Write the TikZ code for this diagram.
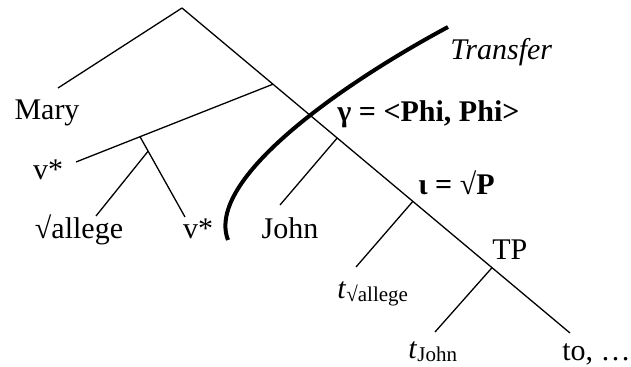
\documentclass[tikz,border=0pt]{standalone}
\usepackage{fontspec}
\setmainfont{Liberation Serif}
\usetikzlibrary{positioning,calc}
\newcommand{\trace}[1]{\textit{t}{\fontsize{10.5}{12}\selectfont\raisebox{-1.5pt}{#1}}}

\begin{document}
\begin{tikzpicture}[
  x=0.5pt,y=-0.5pt,
  font=\fontsize{15}{18}\selectfont,
  branch/.style={line width=0.65pt},
  leaf/.style={anchor=base,inner sep=0pt},
  tag/.style={anchor=base west,inner sep=0pt},
  transfer/.style={line width=2pt}
]
  \useasboundingbox (0,0) rectangle (631,367);
  % spine and its junctions
  \coordinate (root) at (182,8);
  \coordinate (spineend) at (570,333);
  \coordinate (vPhead) at ($(root)!0.2345!(spineend)$);
  \coordinate (gammaP) at ($(root)!0.40!(spineend)$);
  \coordinate (iotaP) at ($(root)!0.595!(spineend)$);
  \coordinate (tpP) at ($(root)!0.799!(spineend)$);
  % free ends
  \coordinate (maryend) at (58,88);
  \coordinate (vend) at (76,162);
  \coordinate (vtwoend) at (185,217);
  \coordinate (allegeend) at (96,216);
  \coordinate (johnend) at (280,205);
  \coordinate (tallegeend) at (356,267);
  \coordinate (tjohnend) at (435,332);
  \coordinate (vP) at ($(vPhead)!0.675!(vend)$);
  \coordinate (rootP) at ($(vP)!0.18!(vtwoend)$);

  \node[leaf] (mary) at (47,120) {Mary};
  \node[leaf] (vstar) at (48,180) {v*};
  \node[leaf] (allege) at (79,239) {√allege};
  \node[leaf] (vstartwo) at (198,239) {v*};
  \node[leaf] (john) at (290,239) {John};
  \node[tag] (gamma) at (337,122) {\textbf{γ = <Phi, Phi>}};
  \node[tag] (iota) at (418,195) {\textbf{ι = √P}};
  \node[tag] (transferlbl) at (450,60) {\textit{Transfer}};
  \node[tag] (tp) at (492,260) {TP};
  \node[tag] (tallege) at (337,299) {\trace{√allege}};
  \node[tag] (tjohn) at (408,359) {\trace{John}};
  \node[tag] (to) at (562,361) {to, …};

  \draw[branch] (root) -- (maryend);
  \draw[branch] (root) -- (spineend);
  \draw[branch] (vPhead) -- (vend);
  \draw[branch] (vP) -- (vtwoend);
  \draw[branch] (rootP) -- (allegeend);
  \draw[branch] (gammaP) -- (johnend);
  \draw[branch] (iotaP) -- (tallegeend);
  \draw[branch] (tpP) -- (tjohnend);

  \draw[transfer] (448,27) .. controls (340,85) and (205,180) .. (228,240);
\end{tikzpicture}
\end{document}
